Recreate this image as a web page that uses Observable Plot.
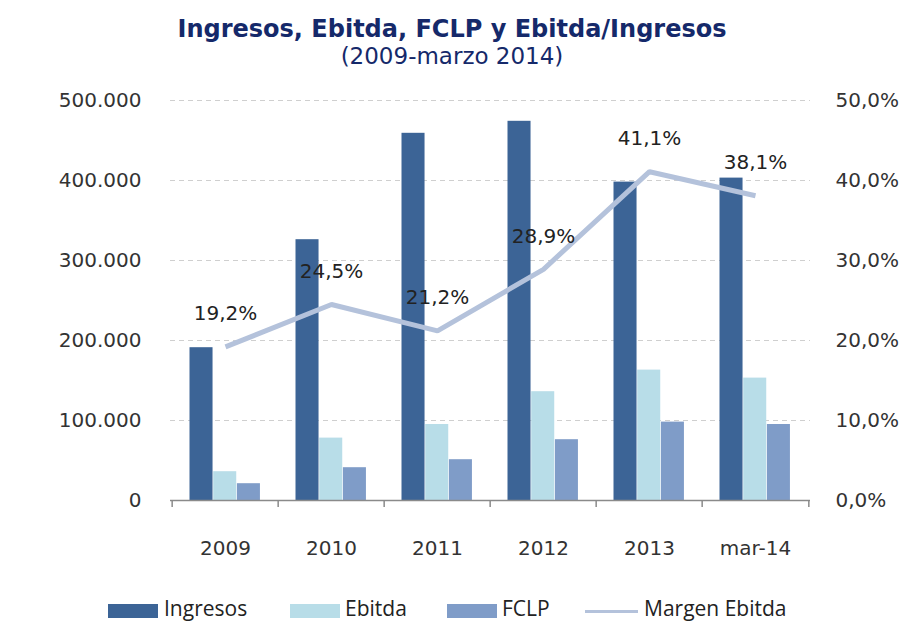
<!DOCTYPE html>
<html><head><meta charset="utf-8">
<script src="https://cdn.jsdelivr.net/npm/d3@7"></script>
<script src="https://cdn.jsdelivr.net/npm/@observablehq/plot@0.6"></script>
<style>
body{margin:0;background:#fff;width:904px;height:623px;overflow:hidden;position:relative;font-family:"DejaVu Sans",Verdana,sans-serif}
#title{position:absolute;top:15px;left:0;width:904px;text-align:center;font:bold 24px/28px "DejaVu Sans",Verdana,sans-serif;color:#15296a}
#subtitle{position:absolute;top:43px;left:0;width:904px;text-align:center;font:23px/27px "DejaVu Sans",Verdana,sans-serif;color:#15296a}
#chart{position:absolute;top:75px;left:0}
#ylabel{position:absolute;left:22px;top:303px;transform:translate(-50%,-50%) rotate(-90deg);white-space:nowrap;font:bold 18px "DejaVu Sans",Verdana,sans-serif;color:#111}
.lg{position:absolute;top:598px;font:21px/21px "Open Sans",sans-serif;color:#222;white-space:nowrap}
.sw{position:absolute;top:604px;width:50px;height:14px}
.ln{position:absolute;top:610px;width:53px;height:3px}
</style>
</head><body>
<div id="title"></div>
<div id="subtitle"></div>
<div id="ylabel"></div>
<div id="chart"></div>
<div id="legend"></div>
<script>
const titleText = "Ingresos, Ebitda, FCLP y Ebitda/Ingresos";
const subtitleText = "(2009-marzo 2014)";
const yLabelText = "Millones de pesos";
const years = ["2009", "2010", "2011", "2012", "2013", "mar-14"];
const ingresos = [191000, 326000, 459000, 474000, 398000, 403000];
const ebitda = [36000, 78000, 95000, 136000, 163000, 153000];
const fclp = [21000, 41000, 51000, 76000, 98000, 95000];
const margen = [19.2, 24.5, 21.2, 28.9, 41.1, 38.1];
const leftTicks = [0, 100000, 200000, 300000, 400000, 500000];
const seriesNames = ["Ingresos", "Ebitda", "FCLP", "Margen Ebitda"];
const seriesColors = ["#3c6496", "#b8dde8", "#7f9cc8", "#b4c2db"];

document.getElementById("title").textContent = titleText;
document.getElementById("subtitle").textContent = subtitleText;
document.getElementById("ylabel").textContent = yLabelText;

const data = years.map((y, i) => ({year: y, ingresos: ingresos[i], ebitda: ebitda[i], fclp: fclp[i], margen: margen[i]}));

const W = 904, mL = 170, mR = 94;
const bw = (W - mL - mR) / years.length;
const barW = 23.7, off = 17.5;
const insets = k => ({insetLeft: off + k * barW, insetRight: bw - off - (k + 1) * barW});

const numFmt = d => d === 0 ? "0" : d3.format(",")(d).replace(/,/g, ".");
const pctFmt = v => v.toFixed(1).replace(".", ",") + "%";
const pctScale = 10000; // 50% on the right axis ↔ 500.000 on the left

const chart = Plot.plot({
  width: W, height: 505,
  marginLeft: mL, marginRight: mR, marginTop: 25, marginBottom: 80,
  style: {fontFamily: "'DejaVu Sans', Verdana, sans-serif", fontSize: "20px", color: "#333", background: "#fff"},
  x: {domain: years, padding: 0, label: null},
  y: {domain: [0, 500000], label: null},
  marks: [
    Plot.ruleY(leftTicks.filter(d => d > 0), {stroke: "#cfcfcf", strokeWidth: 1.2, strokeDasharray: "5,4"}),
    Plot.barY(data, {x: "year", y: "ingresos", fill: seriesColors[0], ...insets(0)}),
    Plot.barY(data, {x: "year", y: "ebitda", fill: seriesColors[1], ...insets(1)}),
    Plot.barY(data, {x: "year", y: "fclp", fill: seriesColors[2], ...insets(2)}),
    Plot.ruleY([0], {stroke: "#8a8a8a", strokeWidth: 1.5}),
    Plot.axisX({tickSize: 7, text: null, dx: -bw / 2, stroke: "#8a8a8a", strokeWidth: 1.5}),
    Plot.axisX([years[years.length - 1]], {tickSize: 7, text: null, dx: bw / 2, stroke: "#8a8a8a", strokeWidth: 1.5}),
    Plot.axisX({tickSize: 0, tickPadding: 40, fontSize: 20, fill: "#333"}),
    Plot.axisY({ticks: leftTicks, tickSize: 0, tickPadding: 29, tickFormat: numFmt, label: null, fontSize: 20, fill: "#333"}),
    Plot.axisY({anchor: "right", ticks: leftTicks, tickSize: 0, tickPadding: 25, tickFormat: d => pctFmt(d / pctScale), label: null, fontSize: 20, fill: "#333"}),
    Plot.lineY(data, {x: "year", y: d => d.margen * pctScale, stroke: seriesColors[3], strokeWidth: 5, strokeLinejoin: "miter", strokeLinecap: "butt"}),
    Plot.text(data, {x: "year", y: d => d.margen * pctScale, text: d => pctFmt(d.margen), dy: -33, fontSize: 20, fill: "#222"})
  ]
});
document.getElementById("chart").appendChild(chart);

// legend
const legend = document.getElementById("legend");
const lgPos = [{sw: 108, tx: 164}, {sw: 290, tx: 345}, {sw: 447, tx: 502}, {sw: 585, tx: 644}];
seriesNames.forEach((name, i) => {
  const s = document.createElement("div");
  s.className = i === 3 ? "ln" : "sw";
  s.style.left = lgPos[i].sw + "px";
  s.style.background = seriesColors[i];
  legend.appendChild(s);
  const t = document.createElement("div");
  t.className = "lg";
  t.style.left = lgPos[i].tx + "px";
  t.textContent = name;
  legend.appendChild(t);
});
</script>
</body></html>
